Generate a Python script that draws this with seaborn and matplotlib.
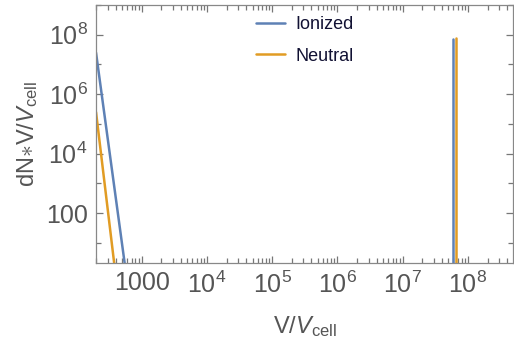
import numpy as np
import pandas as pd
import matplotlib
matplotlib.use("Agg")
import matplotlib.pyplot as plt
import matplotlib.ticker as mticker
import seaborn as sns

# values (log-log)
series_names = ["Ionized", "Neutral"]
ionized_v = [200, 600]
ionized_n = [2.5e7, 0.5]
neutral_v = [200, 400]
neutral_n = [2.5e5, 0.8]
spike_v = [5.96e7, 6.55e7]      # ionized, neutral
spike_top = [7.2e7, 7.8e7]
spike_base = 1e-2

rows = []
for name, vs, ns, sv, st in zip(series_names, [ionized_v, neutral_v], [ionized_n, neutral_n],
                                spike_v, spike_top):
    for v, n in zip(vs, ns):
        rows.append({"series": name, "seg": 0, "V": v, "dN": n})
    rows.append({"series": name, "seg": 1, "V": sv, "dN": spike_base})
    rows.append({"series": name, "seg": 1, "V": sv, "dN": st})
df = pd.DataFrame(rows)

sns.set_style("ticks")
plt.rcParams["font.family"] = ["Liberation Sans", "DejaVu Sans"]
plt.rcParams["mathtext.fontset"] = "custom"
plt.rcParams["mathtext.rm"] = "Liberation Sans"
plt.rcParams["mathtext.it"] = "Liberation Sans:italic"

palette = {"Ionized": "#5E81B5", "Neutral": "#E19C24"}
grey = "#555555"

fig = plt.figure(figsize=(5.14, 3.5), dpi=100)
ax = fig.add_axes([0.1868, 0.2486, 0.8112, 0.7371])

sns.lineplot(data=df, x="V", y="dN", hue="series", units="seg", estimator=None,
             sort=False, palette=palette, linewidth=1.8, ax=ax)

ax.set_xscale("log")
ax.set_yscale("log")
ax.set_xlim(200, 4.9e8)
ax.set_ylim(2.1, 1e9)

def xfmt(v, pos):
    e = int(round(np.log10(v)))
    return "1000" if e == 3 else r"$10^{%d}$" % e

def yfmt(v, pos):
    e = int(round(np.log10(v)))
    return "100" if e == 2 else r"$10^{%d}$" % e

ax.xaxis.set_major_locator(mticker.FixedLocator([10.0**k for k in range(3, 9)]))
ax.xaxis.set_major_formatter(mticker.FuncFormatter(xfmt))
ax.xaxis.set_minor_locator(mticker.LogLocator(base=10, subs=np.arange(2, 10), numticks=20))
ax.xaxis.set_minor_formatter(mticker.NullFormatter())

ax.yaxis.set_major_locator(mticker.FixedLocator([1e2, 1e4, 1e6, 1e8]))
ax.yaxis.set_major_formatter(mticker.FuncFormatter(yfmt))
ax.yaxis.set_minor_locator(mticker.FixedLocator([10.0**k for k in (1, 3, 5, 7, 9)]))
ax.yaxis.set_minor_formatter(mticker.NullFormatter())

ax.tick_params(which="both", direction="in", top=True, right=True, color="#777777",
               labelsize=18, labelcolor=grey, width=0.9)
ax.tick_params(which="major", length=5, pad=6)
ax.tick_params(which="minor", length=3.5)
for s in ax.spines.values():
    s.set_color("#888888")
    s.set_linewidth(0.9)

ax.set_xlabel(r"V/$\mathit{V}_{\mathrm{cell}}$", fontsize=17, color=grey, labelpad=12)
ax.set_ylabel(r"dN$\ast$V/$\mathit{V}_{\mathrm{cell}}$", fontsize=17, color=grey, labelpad=4)

handles, labels = ax.get_legend_handles_labels()
ax.legend(handles, labels, frameon=False, loc="upper left", bbox_to_anchor=(0.345, 1.02),
          fontsize=13, handlelength=1.6, handletextpad=0.6, labelspacing=0.8,
          labelcolor="#111133")

fig.savefig("out.png", dpi=100)
